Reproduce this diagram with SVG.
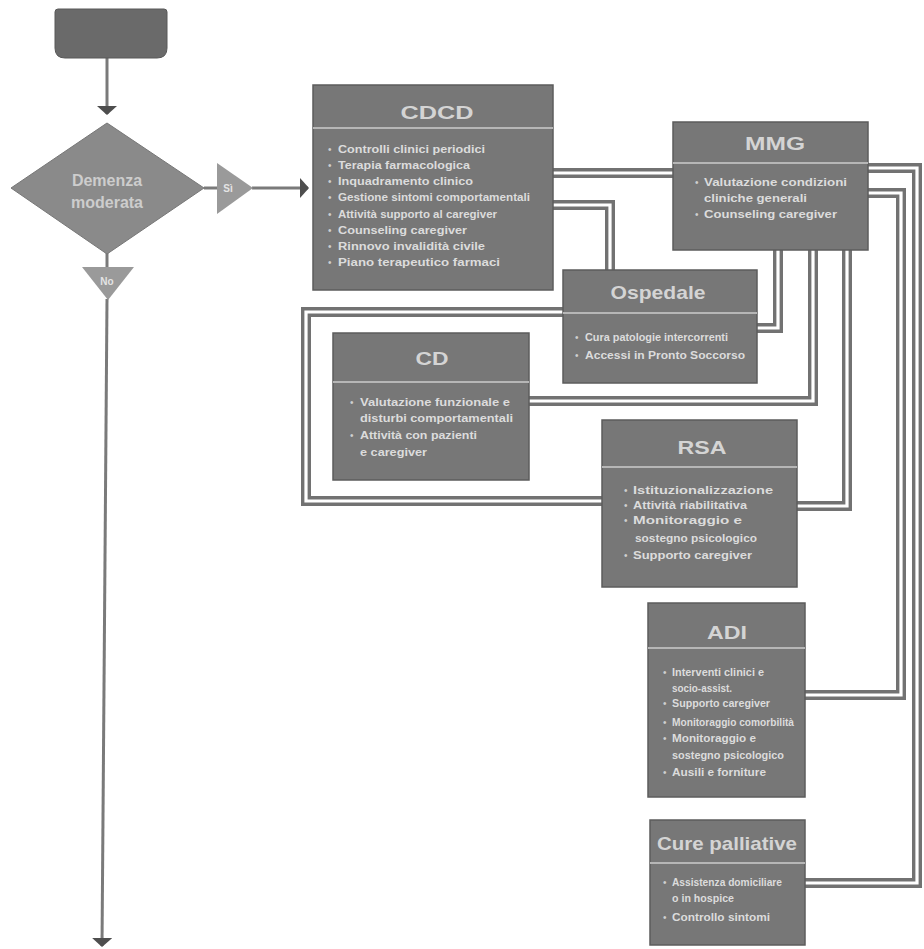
<svg xmlns="http://www.w3.org/2000/svg" width="924" height="949" viewBox="0 0 924 949">
<style>
.box{fill:#777777;stroke:#5c5c5c;stroke-width:1.5}
.sep{stroke:#b6b6b6;stroke-width:2}
.ttl{font-family:"Liberation Sans",Arial,sans-serif;font-weight:bold;fill:#d4d4d4;text-anchor:middle;font-size:19px}
.txt{font-family:"Liberation Sans",Arial,sans-serif;font-weight:bold;font-size:10.5px;fill:#dcdcdc}
.dot{font-family:"Liberation Sans",Arial,sans-serif;font-size:10px;fill:#cfcfcf}
.pipe{fill:none;stroke:#727272;stroke-width:10;stroke-linejoin:miter}
.core{fill:none;stroke:#ffffff;stroke-width:3.2;stroke-linejoin:miter}
.flow{fill:none;stroke:#7a7a7a;stroke-width:3}
.lbl{font-family:"Liberation Sans",Arial,sans-serif;font-weight:bold;font-size:10px;fill:#e4e4e4;text-anchor:middle}
</style>
<defs>
<marker id="head" viewBox="0 0 9 20" refX="8" refY="10" markerWidth="9" markerHeight="20" markerUnits="userSpaceOnUse" orient="auto">
<path d="M0,0 L9,10 L0,20 Z" fill="#4e4e4e"/>
</marker>
<path id="c1" d="M550,173 H676"/>
<path id="c2" d="M550,205 H610 V273"/>
<path id="c3" d="M865,168 H917 V883 H802"/>
<path id="c4" d="M865,193 H901 V695 H802"/>
<path id="c5" d="M778,248 V328 H754"/>
<path id="c6" d="M813,248 V401 H527"/>
<path id="c7" d="M847,248 V506 H794"/>
<path id="c8" d="M566,312 H306 V501 H605"/>
</defs>
<rect width="924" height="949" fill="#ffffff"/>

<!-- linking pipes between services -->
<g id="connectors">
<g class="pipe">
<use href="#c1"/><use href="#c2"/><use href="#c3"/><use href="#c4"/>
<use href="#c5"/><use href="#c6"/><use href="#c7"/><use href="#c8"/>
</g>
<g class="core">
<use href="#c1"/><use href="#c2"/><use href="#c3"/><use href="#c4"/>
<use href="#c5"/><use href="#c6"/><use href="#c7"/><use href="#c8"/>
</g>
<!-- main flow lines -->
<line class="flow" x1="107" y1="58" x2="107" y2="114" marker-end="url(#head)"/>
<line class="flow" x1="204" y1="188" x2="218" y2="188"/>
<line class="flow" x1="252" y1="188" x2="308" y2="188" marker-end="url(#head)"/>
<line class="flow" x1="107" y1="253" x2="107" y2="268"/>
<line class="flow" x1="107" y1="299" x2="102" y2="946" marker-end="url(#head)"/>
</g>

<g id="start">
<path d="M58,9 H164 Q167,9 167,12 V48 Q167,58 157,58 H65 Q55,58 55,48 V12 Q55,9 58,9 Z" fill="#6a6a6a" stroke="#585858"/>
</g>

<g id="decision">
<polygon points="107,123 204,188 107,254 11,188" fill="#8a8a8a" stroke="#777"/>
<text class="ttl" x="107" y="186" style="font-size:16px;fill:#cdcdcd">Demenza</text>
<text class="ttl" x="107" y="208" style="font-size:16px;fill:#cdcdcd">moderata</text>
</g>

<g id="yes">
<polygon points="217,163 253,188 217,214" fill="#9a9a9a"/>
<text class="lbl" x="228" y="192">Sì</text>
</g>

<g id="no">
<polygon points="82,267 134,267 108,300" fill="#9a9a9a"/>
<text class="lbl" x="107" y="285">No</text>
</g>

<g id="cdcd">
<rect class="box" x="313" y="85" width="240" height="205"/>
<line class="sep" x1="313" y1="128" x2="553" y2="128"/>
<text class="ttl" x="437" y="119" textLength="73" lengthAdjust="spacingAndGlyphs">CDCD</text>
<g class="dot">
<text x="328" y="153">•</text><text x="328" y="169">•</text><text x="328" y="185">•</text><text x="328" y="201">•</text>
<text x="328" y="218">•</text><text x="328" y="234">•</text><text x="328" y="250">•</text><text x="328" y="266">•</text>
</g>
<g class="txt">
<text x="338" y="153" textLength="147" lengthAdjust="spacingAndGlyphs">Controlli clinici periodici</text>
<text x="338" y="169" textLength="132" lengthAdjust="spacingAndGlyphs">Terapia farmacologica</text>
<text x="338" y="185" textLength="135" lengthAdjust="spacingAndGlyphs">Inquadramento clinico</text>
<text x="338" y="201" textLength="192" lengthAdjust="spacingAndGlyphs">Gestione sintomi comportamentali</text>
<text x="338" y="218" textLength="159" lengthAdjust="spacingAndGlyphs">Attività supporto al caregiver</text>
<text x="338" y="234" textLength="129" lengthAdjust="spacingAndGlyphs">Counseling caregiver</text>
<text x="338" y="250" textLength="147" lengthAdjust="spacingAndGlyphs">Rinnovo invalidità civile</text>
<text x="338" y="266" textLength="162" lengthAdjust="spacingAndGlyphs">Piano terapeutico farmaci</text>
</g>
</g>

<g id="mmg">
<rect class="box" x="673" y="122" width="195" height="128"/>
<line class="sep" x1="673" y1="163" x2="868" y2="163"/>
<text class="ttl" x="775" y="150" textLength="60" lengthAdjust="spacingAndGlyphs">MMG</text>
<g class="dot"><text x="695" y="186">•</text><text x="695" y="218">•</text></g>
<g class="txt">
<text x="704" y="186" textLength="143" lengthAdjust="spacingAndGlyphs">Valutazione condizioni</text>
<text x="704" y="202" textLength="103" lengthAdjust="spacingAndGlyphs">cliniche generali</text>
<text x="704" y="218" textLength="133" lengthAdjust="spacingAndGlyphs">Counseling caregiver</text>
</g>
</g>

<g id="ospedale">
<rect class="box" x="563" y="270" width="194" height="113"/>
<line class="sep" x1="563" y1="313" x2="757" y2="313"/>
<text class="ttl" x="658" y="299" textLength="95" lengthAdjust="spacingAndGlyphs">Ospedale</text>
<g class="dot"><text x="575" y="341">•</text><text x="575" y="359">•</text></g>
<g class="txt">
<text x="585" y="341" textLength="143" lengthAdjust="spacingAndGlyphs">Cura patologie intercorrenti</text>
<text x="585" y="359" textLength="160" lengthAdjust="spacingAndGlyphs">Accessi in Pronto Soccorso</text>
</g>
</g>

<g id="cd">
<rect class="box" x="333" y="333" width="196" height="147"/>
<line class="sep" x1="333" y1="382" x2="529" y2="382"/>
<text class="ttl" x="432" y="365" textLength="33" lengthAdjust="spacingAndGlyphs">CD</text>
<g class="dot"><text x="350" y="406">•</text><text x="350" y="439">•</text></g>
<g class="txt">
<text x="360" y="406" textLength="150" lengthAdjust="spacingAndGlyphs">Valutazione funzionale e</text>
<text x="360" y="422" textLength="153" lengthAdjust="spacingAndGlyphs">disturbi comportamentali</text>
<text x="360" y="439" textLength="117" lengthAdjust="spacingAndGlyphs">Attività con pazienti</text>
<text x="360" y="456" textLength="67" lengthAdjust="spacingAndGlyphs">e caregiver</text>
</g>
</g>

<g id="rsa">
<rect class="box" x="602" y="420" width="195" height="167"/>
<line class="sep" x1="602" y1="467" x2="797" y2="467"/>
<text class="ttl" x="702" y="454" textLength="49" lengthAdjust="spacingAndGlyphs">RSA</text>
<g class="dot"><text x="624" y="494">•</text><text x="624" y="509">•</text><text x="624" y="524">•</text><text x="624" y="559">•</text></g>
<g class="txt">
<text x="633" y="494" textLength="140" lengthAdjust="spacingAndGlyphs">Istituzionalizzazione</text>
<text x="633" y="509" textLength="114" lengthAdjust="spacingAndGlyphs">Attività riabilitativa</text>
<text x="633" y="524" textLength="109" lengthAdjust="spacingAndGlyphs">Monitoraggio e</text>
<text x="635" y="542" textLength="122" lengthAdjust="spacingAndGlyphs">sostegno psicologico</text>
<text x="633" y="559" textLength="119" lengthAdjust="spacingAndGlyphs">Supporto caregiver</text>
</g>
</g>

<g id="adi">
<rect class="box" x="648" y="603" width="157" height="194"/>
<line class="sep" x1="648" y1="648" x2="805" y2="648"/>
<text class="ttl" x="727" y="639" textLength="40" lengthAdjust="spacingAndGlyphs">ADI</text>
<g class="dot"><text x="663" y="676">•</text><text x="663" y="707">•</text><text x="663" y="726">•</text><text x="663" y="742">•</text><text x="663" y="776">•</text></g>
<g class="txt">
<text x="672" y="676" textLength="92" lengthAdjust="spacingAndGlyphs">Interventi clinici e</text>
<text x="672" y="692" textLength="60" lengthAdjust="spacingAndGlyphs">socio-assist.</text>
<text x="672" y="707" textLength="98" lengthAdjust="spacingAndGlyphs">Supporto caregiver</text>
<text x="672" y="726" textLength="122" lengthAdjust="spacingAndGlyphs">Monitoraggio comorbilità</text>
<text x="672" y="742" textLength="84" lengthAdjust="spacingAndGlyphs">Monitoraggio e</text>
<text x="672" y="759" textLength="112" lengthAdjust="spacingAndGlyphs">sostegno psicologico</text>
<text x="672" y="776" textLength="94" lengthAdjust="spacingAndGlyphs">Ausili e forniture</text>
</g>
</g>

<g id="cure">
<rect class="box" x="650" y="820" width="155" height="125"/>
<line class="sep" x1="650" y1="863" x2="805" y2="863"/>
<text class="ttl" x="727" y="850" textLength="140" lengthAdjust="spacingAndGlyphs">Cure palliative</text>
<g class="dot"><text x="663" y="886">•</text><text x="663" y="921">•</text></g>
<g class="txt">
<text x="672" y="886" textLength="110" lengthAdjust="spacingAndGlyphs">Assistenza domiciliare</text>
<text x="672" y="902" textLength="62" lengthAdjust="spacingAndGlyphs">o in hospice</text>
<text x="672" y="921" textLength="98" lengthAdjust="spacingAndGlyphs">Controllo sintomi</text>
</g>
</g>
</svg>
